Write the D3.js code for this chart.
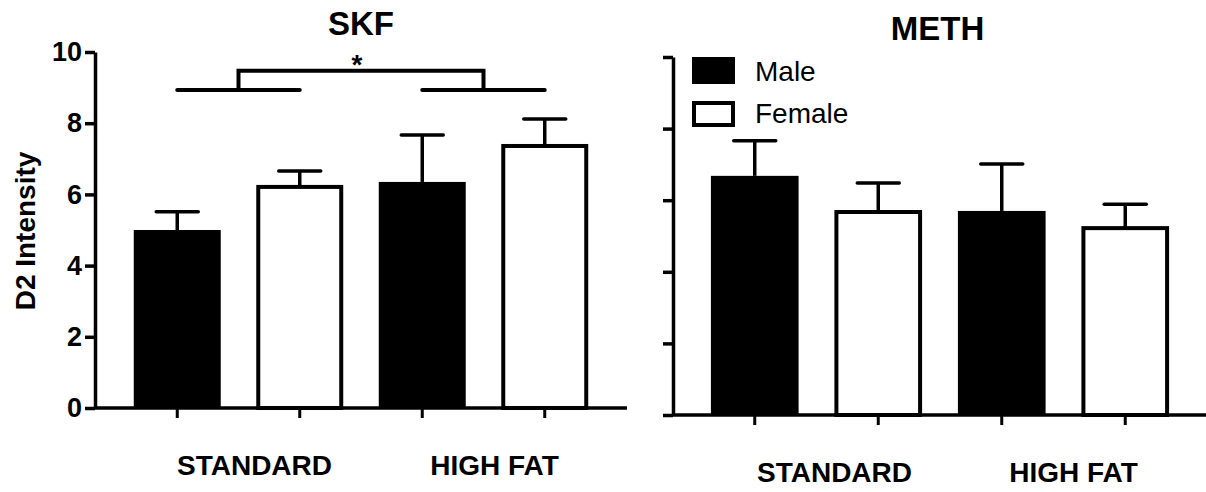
<!DOCTYPE html>
<html>
<head>
<meta charset="utf-8">
<script src="https://cdn.jsdelivr.net/npm/d3@7/dist/d3.min.js"></script>
<style>
  html, body { margin: 0; padding: 0; background: #fff; }
  svg { display: block; }
  text { font-family: "Liberation Sans", Arial, Helvetica, sans-serif; fill: #000; }
</style>
</head>
<body>
<svg id="chart" width="1206" height="492"></svg>
<script>
// ---- data ----
const groups = ["STANDARD", "HIGH FAT"];
const sexes = ["Male", "Female"];
const yTicks = [0, 2, 4, 6, 8, 10];
const panelTitles = ["SKF", "METH"];
const yLabel = "D2 Intensity";

const skfMale = [5.0, 6.35];
const skfFemale = [6.21, 7.36];
const skfMaleSEM = [0.51, 1.32];
const skfFemaleSEM = [0.45, 0.76];

const methMale = [6.68, 5.70];
const methFemale = [5.67, 5.22];
const methMaleSEM = [0.98, 1.31];
const methFemaleSEM = [0.81, 0.67];

// significance bracket (SKF): levels in data units
const sigLow = 8.93, sigHigh = 9.47, sigLabel = "*";

// ---- build ----
const svg = d3.select("#chart");
const fam = '"Liberation Sans", Arial, Helvetica, sans-serif';

function rows(male, female, maleSem, femaleSem) {
  const out = [];
  groups.forEach((g, i) => {
    out.push({ group: g, sex: "Male", value: male[i], sem: maleSem[i] });
    out.push({ group: g, sex: "Female", value: female[i], sem: femaleSem[i] });
  });
  return out;
}

const panels = [
  { title: panelTitles[0], data: rows(skfMale, skfFemale, skfMaleSEM, skfFemaleSEM),
    axisX: 95, xEnd: 627, yRange: [408, 52], groupRange: [116, 606], labels: true,
    titleY: 35, catY: 475, catDx: [16, 11] },
  { title: panelTitles[1], data: rows(methMale, methFemale, methMaleSEM, methFemaleSEM),
    axisX: 673, xEnd: 1206, yRange: [415, 57], groupRange: [693, 1187], labels: false,
    titleY: 40, catY: 482, catDx: [18, 10] }
];

panels.forEach((p, pi) => {
  const g = svg.append("g");
  const y = d3.scaleLinear().domain([0, 10]).range(p.yRange);
  const x0 = d3.scaleBand().domain(groups).range(p.groupRange).padding(0);
  const x1 = d3.scaleBand().domain(sexes).range([0, x0.bandwidth()])
    .paddingInner(0.29).paddingOuter(0.145);
  const bw = x1.bandwidth();
  const cx = d => x0(d.group) + x1(d.sex) + bw / 2;

  // bars
  g.selectAll("rect.bar").data(p.data).join("rect")
    .attr("class", "bar")
    .attr("x", d => x0(d.group) + x1(d.sex) + (d.sex === "Female" ? 2 : 0))
    .attr("width", d => d.sex === "Female" ? bw - 4 : bw)
    .attr("y", d => y(d.value))
    .attr("height", d => y(0) - y(d.value))
    .attr("fill", d => d.sex === "Male" ? "#000" : "#fff")
    .attr("stroke", "#000")
    .attr("stroke-width", d => d.sex === "Female" ? 4 : 0);

  // error bars
  g.selectAll("line.stem").data(p.data).join("line")
    .attr("x1", cx).attr("x2", cx)
    .attr("y1", d => y(d.value)).attr("y2", d => y(d.value + d.sem))
    .attr("stroke", "#000").attr("stroke-width", 3.5);
  g.selectAll("line.cap").data(p.data).join("line")
    .attr("x1", d => cx(d) - 21).attr("x2", d => cx(d) + 21)
    .attr("y1", d => y(d.value + d.sem)).attr("y2", d => y(d.value + d.sem))
    .attr("stroke", "#000").attr("stroke-width", 3.5).attr("stroke-linecap", "round");

  // y axis
  const yAxis = d3.axisLeft(y).tickValues(yTicks).tickSize(10).tickSizeOuter(0)
    .tickPadding(3).tickFormat(p.labels ? d3.format("d") : () => "");
  const ya = g.append("g").attr("transform", `translate(${p.axisX},0)`).call(yAxis);
  ya.select(".domain").attr("stroke", "#000").attr("stroke-width", 3.5);
  ya.selectAll(".tick line").attr("stroke", "#000").attr("stroke-width", 3.5);
  ya.selectAll(".tick text").attr("font-family", fam).attr("font-weight", "bold")
    .attr("font-size", 27).attr("fill", "#000");

  // x axis line and ticks
  g.append("line").attr("x1", p.axisX).attr("x2", p.xEnd)
    .attr("y1", y(0)).attr("y2", y(0)).attr("stroke", "#000").attr("stroke-width", 3.5);
  g.selectAll("line.xt").data(p.data).join("line")
    .attr("x1", cx).attr("x2", cx).attr("y1", y(0)).attr("y2", y(0) + 10)
    .attr("stroke", "#000").attr("stroke-width", 3);

  // category labels
  g.selectAll("text.cat").data(groups).join("text")
    .attr("x", (d, i) => x0(d) + x0.bandwidth() / 2 + p.catDx[i])
    .attr("y", p.catY)
    .attr("text-anchor", "middle").attr("font-weight", "bold").attr("font-size", 28)
    .text(d => d);

  // title
  g.append("text").attr("x", (p.axisX + p.xEnd) / 2 + (pi === 0 ? 0 : -2)).attr("y", p.titleY)
    .attr("text-anchor", "middle").attr("font-weight", "bold").attr("font-size", 33)
    .text(p.title);

  p.y = y; p.x0 = x0; p.x1 = x1; p.cx = cx;
});

// y label
svg.append("text")
  .attr("transform", "translate(35,231) rotate(-90)")
  .attr("text-anchor", "middle").attr("font-weight", "bold").attr("font-size", 28)
  .text(yLabel);

// significance bracket on SKF
{
  const p = panels[0];
  const y = p.y;
  const gs = svg.append("g").attr("stroke", "#000").attr("stroke-width", 4)
    .attr("fill", "none").attr("stroke-linecap", "round");
  groups.forEach(gr => {
    const a = p.cx({ group: gr, sex: "Male" });
    const b = p.cx({ group: gr, sex: "Female" });
    gs.append("line").attr("x1", a).attr("x2", b).attr("y1", y(sigLow)).attr("y2", y(sigLow));
  });
  const c1 = p.x0(groups[0]) + p.x0.bandwidth() / 2;
  const c2 = p.x0(groups[1]) + p.x0.bandwidth() / 2;
  gs.append("path")
    .attr("stroke-linecap", "butt").attr("stroke-linejoin", "miter")
    .attr("d", `M${c1},${y(sigLow)}V${y(sigHigh)}H${c2}V${y(sigLow)}`);
  svg.append("text").attr("x", (c1 + c2) / 2 - 4).attr("y", 74)
    .attr("text-anchor", "middle").attr("font-weight", "bold").attr("font-size", 28)
    .text(sigLabel);
}

// legend (in METH panel)
{
  const lg = svg.append("g").attr("transform", "translate(692,57)");
  const items = sexes.map((s, i) => ({ s, i }));
  lg.selectAll("rect").data(items).join("rect")
    .attr("x", d => d.s === "Female" ? 2 : 0)
    .attr("y", d => d.i * 44 + (d.s === "Female" ? 2 : 0))
    .attr("width", d => d.s === "Female" ? 39 : 43)
    .attr("height", d => d.s === "Female" ? 22 : 27)
    .attr("fill", d => d.s === "Male" ? "#000" : "#fff")
    .attr("stroke", "#000").attr("stroke-width", d => d.s === "Female" ? 4 : 0);
  lg.selectAll("text").data(items).join("text")
    .attr("x", 63).attr("y", d => 24 + d.i * 42)
    .attr("font-size", 28)
    .text(d => d.s);
}
</script>
</body>
</html>
